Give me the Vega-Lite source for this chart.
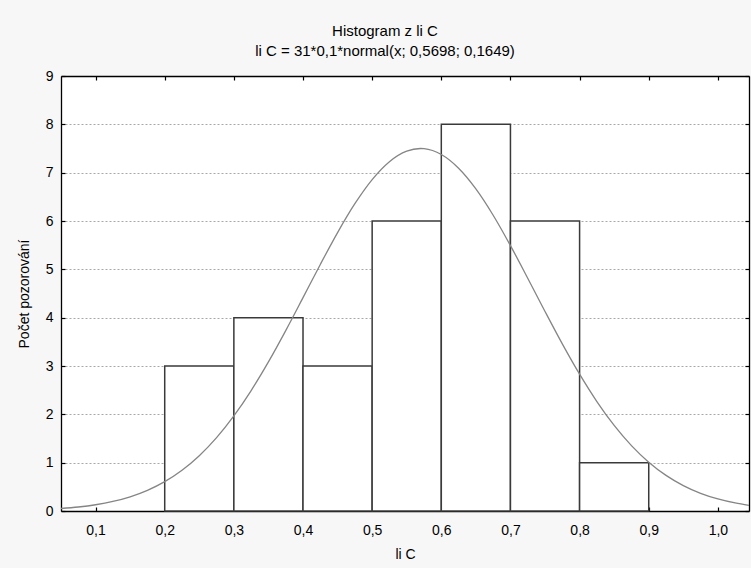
{
  "$schema": "https://vega.github.io/schema/vega-lite/v6.json",
  "width": 688,
  "height": 435,
  "autosize": "none",
  "padding": {"left": 61, "top": 76, "right": 2, "bottom": 57},
  "background": "#f7f7f7",
  "config": {
    "view": {"fill": "white", "stroke": null},
    "font": "Liberation Sans",
    "axis": {
      "domainColor": "black",
      "domainWidth": 1.3,
      "tickColor": "black",
      "tickWidth": 1.2,
      "labelColor": "black",
      "titleColor": "black",
      "labelFontSize": 14,
      "titleFontSize": 14,
      "titleFontWeight": "normal",
      "grid": false
    }
  },
  "title": {
    "text": "Histogram z li C",
    "subtitle": "li C = 31*0,1*normal(x; 0,5698; 0,1649)",
    "fontSize": 15,
    "fontWeight": "normal",
    "subtitleFontSize": 15,
    "color": "black",
    "subtitleColor": "black",
    "anchor": "middle",
    "frame": "group",
    "dx": -20,
    "offset": 10,
    "subtitlePadding": 5
  },
  "datasets": {
    "bins": [
      {"start": 0.2, "end": 0.3, "count": 3},
      {"start": 0.3, "end": 0.4, "count": 4},
      {"start": 0.4, "end": 0.5, "count": 3},
      {"start": 0.5, "end": 0.6, "count": 6},
      {"start": 0.6, "end": 0.7, "count": 8},
      {"start": 0.7, "end": 0.8, "count": 6},
      {"start": 0.8, "end": 0.9, "count": 1}
    ],
    "curve": [
      {"x": 0.05, "f": 0.0522}, {"x": 0.075, "f": 0.0832}, {"x": 0.1, "f": 0.1296},
      {"x": 0.125, "f": 0.1973}, {"x": 0.15, "f": 0.2935}, {"x": 0.175, "f": 0.4269},
      {"x": 0.2, "f": 0.6067}, {"x": 0.225, "f": 0.8427}, {"x": 0.25, "f": 1.1438},
      {"x": 0.275, "f": 1.5174}, {"x": 0.3, "f": 1.967}, {"x": 0.325, "f": 2.492},
      {"x": 0.35, "f": 3.0851}, {"x": 0.375, "f": 3.7328}, {"x": 0.4, "f": 4.4137},
      {"x": 0.425, "f": 5.1007}, {"x": 0.45, "f": 5.7604}, {"x": 0.475, "f": 6.3575},
      {"x": 0.5, "f": 6.8573}, {"x": 0.525, "f": 7.2283}, {"x": 0.55, "f": 7.4461},
      {"x": 0.5698, "f": 7.5}, {"x": 0.575, "f": 7.4963}, {"x": 0.6, "f": 7.3753},
      {"x": 0.625, "f": 7.0913}, {"x": 0.65, "f": 6.6634}, {"x": 0.675, "f": 6.119},
      {"x": 0.7, "f": 5.4912}, {"x": 0.725, "f": 4.8162}, {"x": 0.75, "f": 4.1282},
      {"x": 0.775, "f": 3.458}, {"x": 0.8, "f": 2.8307}, {"x": 0.825, "f": 2.2646},
      {"x": 0.85, "f": 1.7705}, {"x": 0.875, "f": 1.3526}, {"x": 0.9, "f": 1.0101},
      {"x": 0.925, "f": 0.7371}, {"x": 0.95, "f": 0.5258}, {"x": 0.975, "f": 0.3663},
      {"x": 1.0, "f": 0.2495}, {"x": 1.025, "f": 0.1661}, {"x": 1.045, "f": 0.118}
    ]
  },
  "layer": [
    {
      "data": {"name": "bins"},
      "mark": {"type": "rect", "fill": "white", "stroke": "#3a3a3a", "strokeWidth": 1.5},
      "encoding": {
        "x": {
          "field": "start", "type": "quantitative",
          "scale": {"domain": [0.05, 1.045], "nice": false, "zero": false},
          "axis": {
            "title": "li C",
            "values": [0.1, 0.2, 0.3, 0.4, 0.5, 0.6, 0.7, 0.8, 0.9, 1.0],
            "labelExpr": "replace(format(datum.value, '.1f'), '.', ',')",
            "tickSize": -4,
            "labelPadding": 16,
            "titlePadding": 10
          }
        },
        "x2": {"field": "end"},
        "y": {
          "field": "count", "type": "quantitative",
          "scale": {"domain": [0, 9], "nice": false},
          "axis": {
            "title": "Počet pozorování",
            "values": [0, 1, 2, 3, 4, 5, 6, 7, 8, 9],
            "tickSize": -4,
            "labelPadding": 12,
            "titlePadding": 14,
            "grid": true,
            "gridColor": "#a8a8a8",
            "gridDash": [2, 2],
            "gridWidth": 1
          }
        },
        "y2": {"datum": 0}
      }
    },
    {
      "data": {"name": "curve"},
      "mark": {"type": "line", "color": "#858585", "strokeWidth": 1.3, "interpolate": "monotone"},
      "encoding": {
        "x": {
          "field": "x", "type": "quantitative",
          "axis": {
            "title": null,
            "labels": false,
            "values": [0.1, 0.2, 0.3, 0.4, 0.5, 0.6, 0.7, 0.8, 0.9, 1.0],
            "tickSize": -4
          }
        },
        "y": {
          "field": "f", "type": "quantitative",
          "axis": {
            "title": null,
            "labels": false,
            "values": [0, 1, 2, 3, 4, 5, 6, 7, 8, 9],
            "tickSize": -4
          }
        }
      }
    }
  ],
  "resolve": {"axis": {"x": "independent", "y": "independent"}}
}
